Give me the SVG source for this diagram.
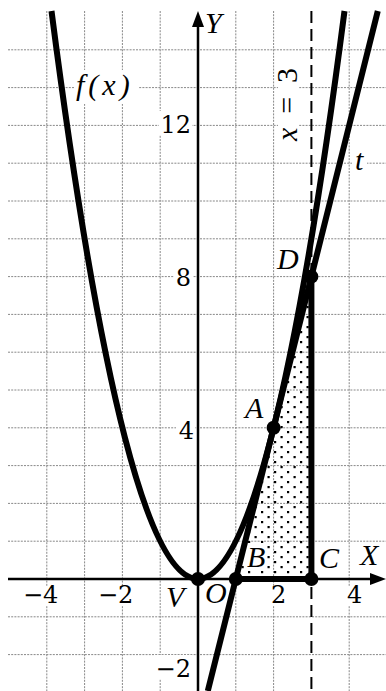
<svg xmlns="http://www.w3.org/2000/svg" width="386" height="691" viewBox="0 0 386 691">
<style>
.grid line{stroke:#888;stroke-width:1;stroke-dasharray:2 1.2}
.lbl{font-family:"Liberation Serif","Times New Roman",serif;font-style:italic;font-size:30px;fill:#000}
.num{font-family:"DejaVu Serif",serif;font-size:24px;fill:#000}
.bg{fill:#fff}
.curve{fill:none;stroke:#000;stroke-width:6}
.axis{stroke:#000;stroke-width:2.5}
.pt{fill:#000}
</style>
<defs>
<pattern id="dots" width="13" height="10" patternUnits="userSpaceOnUse">
<rect x="1" y="1" width="2.2" height="2.2" fill="#000"/>
<rect x="7.5" y="6" width="2.2" height="2.2" fill="#000"/>
</pattern>
</defs>
<rect width="386" height="691" fill="#fff"/>
<g id="grid" class="grid">
<line x1="46.8" y1="11" x2="46.8" y2="691"/>
<line x1="84.6" y1="11" x2="84.6" y2="691"/>
<line x1="122.4" y1="11" x2="122.4" y2="691"/>
<line x1="160.2" y1="11" x2="160.2" y2="691"/>
<line x1="235.8" y1="11" x2="235.8" y2="691"/>
<line x1="273.6" y1="11" x2="273.6" y2="691"/>
<line x1="349.2" y1="11" x2="349.2" y2="691"/>
<line x1="8" y1="49.8" x2="386" y2="49.8"/>
<line x1="8" y1="87.6" x2="386" y2="87.6"/>
<line x1="8" y1="125.4" x2="386" y2="125.4"/>
<line x1="8" y1="163.2" x2="386" y2="163.2"/>
<line x1="8" y1="201" x2="386" y2="201"/>
<line x1="8" y1="238.8" x2="386" y2="238.8"/>
<line x1="8" y1="276.6" x2="386" y2="276.6"/>
<line x1="8" y1="314.4" x2="386" y2="314.4"/>
<line x1="8" y1="352.2" x2="386" y2="352.2"/>
<line x1="8" y1="390" x2="386" y2="390"/>
<line x1="8" y1="427.8" x2="386" y2="427.8"/>
<line x1="8" y1="465.6" x2="386" y2="465.6"/>
<line x1="8" y1="503.4" x2="386" y2="503.4"/>
<line x1="8" y1="541.2" x2="386" y2="541.2"/>
<line x1="8" y1="616.8" x2="386" y2="616.8"/>
<line x1="8" y1="654.6" x2="386" y2="654.6"/>
</g>
<polygon id="shading" points="235.8,579 311.4,579 311.4,276.6" fill="url(#dots)"/>
<g id="label-bg" class="bg">
<rect x="205" y="11" width="22" height="24"/>
<rect x="74" y="70" width="65" height="34"/>
<rect x="159" y="111" width="33" height="24"/>
<rect x="174" y="265" width="19" height="24"/>
<rect x="176" y="421" width="19" height="20"/>
<rect x="278" y="66" width="21" height="76"/>
<rect x="352" y="150" width="15" height="22"/>
<rect x="278" y="247" width="22" height="24"/>
<rect x="245" y="398" width="20" height="22"/>
<rect x="247" y="543" width="19" height="26"/>
<rect x="319" y="547" width="26" height="23"/>
<rect x="361" y="543" width="23" height="24"/>
<rect x="23" y="586" width="39" height="19"/>
<rect x="98" y="586" width="39" height="19"/>
<rect x="166" y="585" width="19" height="25"/>
<rect x="205" y="583" width="22" height="23"/>
<rect x="270" y="586" width="16" height="19"/>
<rect x="346" y="586" width="18" height="19"/>
<rect x="155" y="655" width="37" height="24"/>
</g>
<g id="x3-line">
<line x1="311.4" y1="11" x2="311.4" y2="691" stroke="#000" stroke-width="2" stroke-dasharray="12 6"/>
</g>
<g id="axes">
<line class="axis" x1="8" y1="579" x2="372" y2="579"/>
<polygon points="386,579 370,573 370,585" fill="#000"/>
<line class="axis" x1="198" y1="691" x2="198" y2="25"/>
<polygon points="198,11 192,27 204,27" fill="#000"/>
</g>
<g id="connectors">
<path id="parabola" class="curve" d="M51.5,11 Q198,1147 344.5,11"/>
<path id="tangent" class="curve" d="M377.8,11 L207.8,691"/>
<line class="curve" x1="235.8" y1="579" x2="311.4" y2="579"/>
<line class="curve" x1="311.4" y1="579" x2="311.4" y2="276.6"/>
</g>
<g id="points">
<circle id="V" class="pt" cx="198" cy="579" r="7"/>
<circle id="B" class="pt" cx="235.8" cy="579" r="7"/>
<circle id="C" class="pt" cx="311.4" cy="579" r="7"/>
<circle id="A" class="pt" cx="273.6" cy="427.8" r="7"/>
<circle id="D" class="pt" cx="311.4" cy="276.6" r="7"/>
</g>
<g id="labels">
<text class="lbl" x="205" y="33">Y</text>
<text class="lbl" x="76" y="95" letter-spacing="4">f(x)</text>
<text class="lbl" x="360" y="565">X</text>
<text class="lbl" x="355" y="170">t</text>
<text class="lbl" x="277" y="269">D</text>
<text class="lbl" x="245" y="418">A</text>
<text class="lbl" x="247" y="567">B</text>
<text class="lbl" x="319" y="568">C</text>
<text class="lbl" x="166" y="607">V</text>
<text class="lbl" x="205" y="603">O</text>
<text class="lbl" transform="translate(297,141) rotate(-90)" x="0" y="0" textLength="73" lengthAdjust="spacing"><tspan>x</tspan><tspan font-style="normal"> = 3</tspan></text>
<text class="num" x="191" y="133" text-anchor="end">12</text>
<text class="num" x="191" y="286" text-anchor="end">8</text>
<text class="num" x="194" y="439" text-anchor="end">4</text>
<text class="num" x="191" y="677" text-anchor="end">−2</text>
<text class="num" x="23" y="603">−4</text>
<text class="num" x="98" y="603">−2</text>
<text class="num" x="271" y="603">2</text>
<text class="num" x="347" y="603">4</text>
</g>
</svg>
